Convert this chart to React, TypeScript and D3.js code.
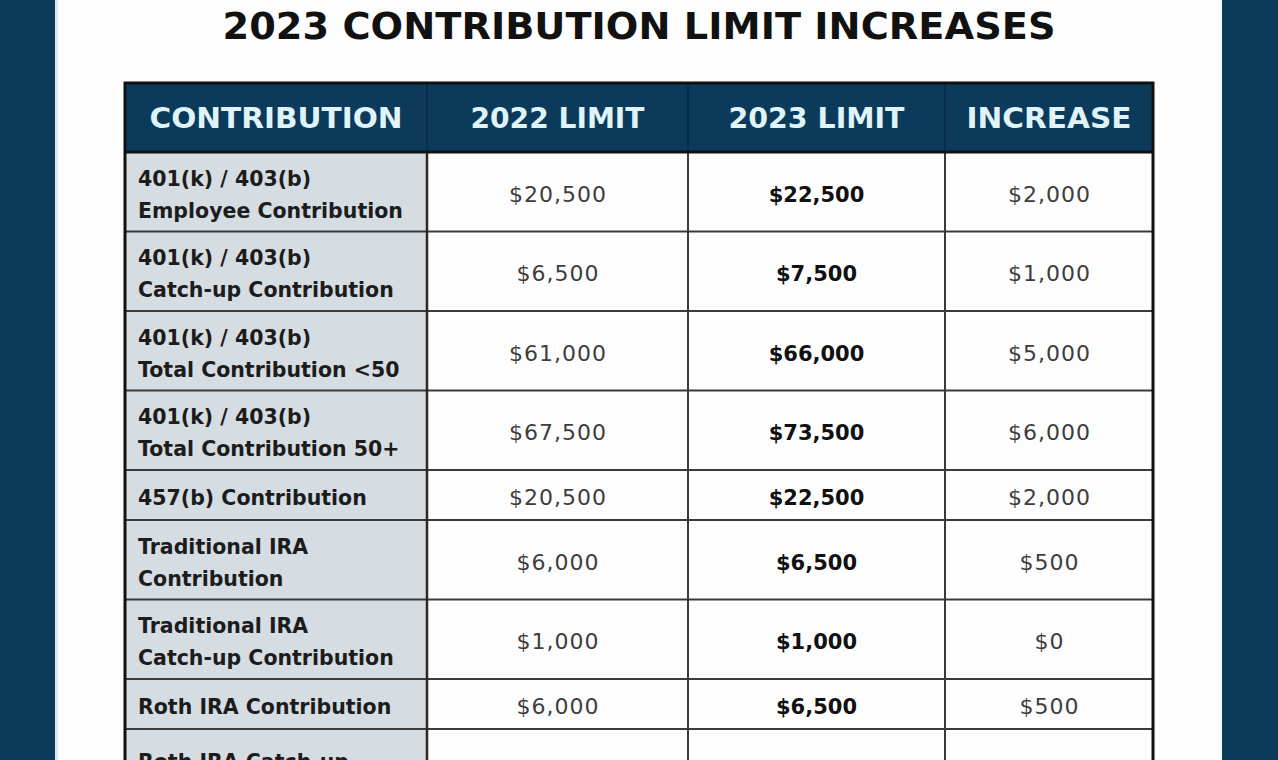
import React from "react";
import * as d3 from "d3";

const title = "2023 CONTRIBUTION LIMIT INCREASES";
const columnHeaders = ["CONTRIBUTION", "2022 LIMIT", "2023 LIMIT", "INCREASE"];
const contributionTypes: string[][] = [
  ["401(k) / 403(b)", "Employee Contribution"],
  ["401(k) / 403(b)", "Catch-up Contribution"],
  ["401(k) / 403(b)", "Total Contribution <50"],
  ["401(k) / 403(b)", "Total Contribution 50+"],
  ["457(b) Contribution"],
  ["Traditional IRA", "Contribution"],
  ["Traditional IRA", "Catch-up Contribution"],
  ["Roth IRA Contribution"],
  ["Roth IRA Catch-up", "Contribution"],
];
// values visible in the picture (the last row's values lie below the frame)
const limit2022 = [20500, 6500, 61000, 67500, 20500, 6000, 1000, 6000];
const limit2023 = [22500, 7500, 66000, 73500, 22500, 6500, 1000, 6500];
const increase = [2000, 1000, 5000, 6000, 2000, 500, 0, 500];

const W = 1278;
const H = 760;
const NAVY = "#0c3a5b";
const FONT = "'DejaVu Sans', Verdana, sans-serif";

export default function App() {
  const fmt = d3.format("$,");
  const colX = d3.scaleOrdinal<string, number>().domain(columnHeaders).range([125, 427, 688, 945]);
  const tableRight = 1153;
  const colRight = (i: number) => (i < columnHeaders.length - 1 ? colX(columnHeaders[i + 1]) : tableRight);
  const colCenter = (i: number) => (colX(columnHeaders[i]) + colRight(i)) / 2;

  const headerTop = 83;
  const headerBottom = 152;
  const rowH = d3.scaleLinear().domain([1, 2]).range([50, 79.5]);
  const heights = contributionTypes.map((l, i) => (i === contributionTypes.length - 1 ? 92 : rowH(l.length)));
  const tops = [headerBottom, ...Array.from(d3.cumsum(heights)).map((c) => headerBottom + c)];

  const rows = contributionTypes.map((lines, i) => ({
    lines,
    top: tops[i],
    bottom: tops[i + 1],
    center: (tops[i] + tops[i + 1]) / 2,
    values: [limit2022[i], limit2023[i], increase[i]],
  }));

  const tableBottom = tops[tops.length - 1];

  return (
    <svg
      width={W}
      height={H}
      style={{ position: "absolute", left: 0, top: 0, display: "block" }}
      fontFamily={FONT}
    >
      <rect x={0} y={0} width={W} height={H} fill="#fdfdfd" />
      <rect x={0} y={0} width={55} height={H} fill={NAVY} />
      <rect x={55} y={0} width={3} height={H} fill="#dfeaf0" />
      <rect x={1222} y={0} width={W - 1222} height={H} fill={NAVY} />

      <text
        x={639}
        y={39}
        textAnchor="middle"
        fontSize={37}
        fontWeight="bold"
        fill="#111"
        textLength={833}
        lengthAdjust="spacingAndGlyphs"
      >
        {title}
      </text>

      {/* header */}
      <rect x={125} y={headerTop} width={tableRight - 125} height={headerBottom - headerTop} fill={NAVY} />
      {columnHeaders.map((h, i) => (
        <text
          key={h}
          x={colCenter(i)}
          y={128}
          textAnchor="middle"
          fontSize={29}
          fontWeight="bold"
          fill="#dff3f9"
          textLength={[253, 174, 176, 165][i]}
          lengthAdjust="spacingAndGlyphs"
        >
          {h}
        </text>
      ))}
      {columnHeaders.slice(1).map((h) => (
        <line key={h} x1={colX(h)} x2={colX(h)} y1={headerTop} y2={headerBottom} stroke="#082a43" strokeWidth={1.5} />
      ))}

      {/* body */}
      <rect x={125} y={headerBottom} width={colRight(0) - 125} height={tableBottom - headerBottom} fill="#d5dde3" />
      {rows.map((r, i) => (
        <g key={i}>
          {r.lines.map((t, j) => {
            const y = r.center + 10 - (r.lines.length - 1) * 16 + j * 32;
            if (y - 16 > H) return null;
            return (
              <text key={j} x={138} y={y} fontSize={20.5} fontWeight="bold" fill="#1c1c1c">
                {t}
              </text>
            );
          })}
          {r.values.map((v, k) =>
            v === undefined ? null : (
              <text
                key={k}
                x={colCenter(k + 1) + (k === 1 ? 0 : 0.5)}
                y={r.center + 10}
                textAnchor="middle"
                fontSize={k === 1 ? 21 : 22}
                fontWeight={k === 1 ? "bold" : "normal"}
                letterSpacing={k === 1 ? 0 : 1}
                fill={k === 1 ? "#111" : "#3d3d3d"}
              >
                {fmt(v)}
              </text>
            )
          )}
          <line x1={125} x2={tableRight} y1={r.bottom} y2={r.bottom} stroke="#3a3a3a" strokeWidth={2} />
        </g>
      ))}
      {columnHeaders.slice(1).map((h, i) => (
        <line
          key={h}
          x1={colX(h)}
          x2={colX(h)}
          y1={headerBottom}
          y2={tableBottom}
          stroke={i === 0 ? "#2a2a2a" : "#3a3a3a"}
          strokeWidth={i === 0 ? 2.5 : 2}
        />
      ))}
      <line x1={125} x2={tableRight} y1={headerBottom} y2={headerBottom} stroke="#111" strokeWidth={3} />
      <rect
        x={125}
        y={headerTop}
        width={tableRight - 125}
        height={tableBottom - headerTop}
        fill="none"
        stroke="#111"
        strokeWidth={3}
      />
    </svg>
  );
}
